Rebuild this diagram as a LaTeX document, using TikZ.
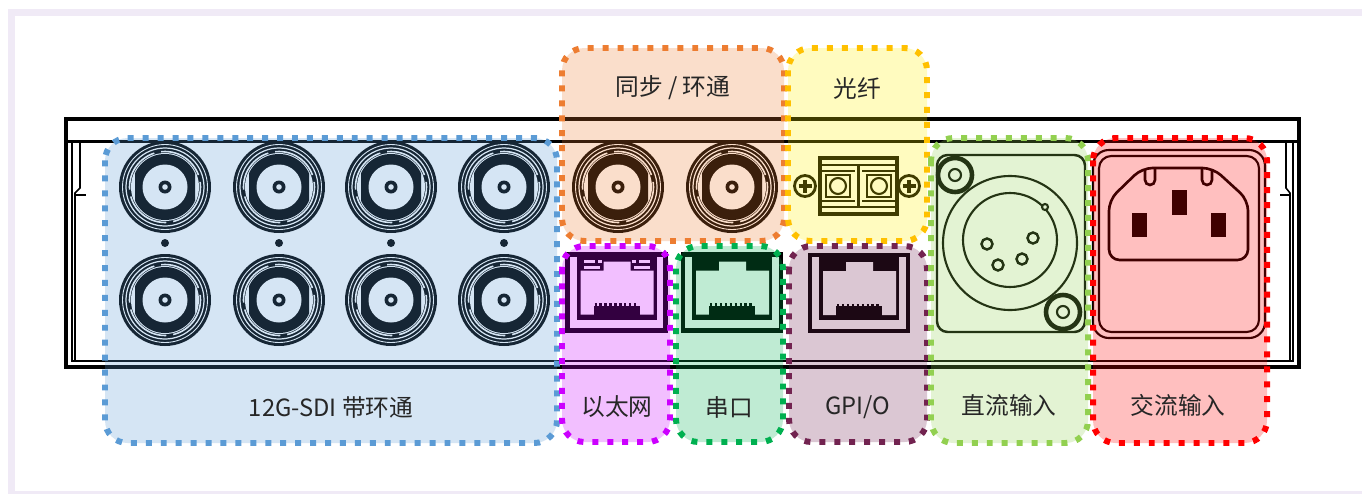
\documentclass[tikz,border=0pt]{standalone}
\usepackage{fontspec}
\setmainfont{Noto Sans CJK SC}
\usepackage{xcolor}
\usepackage{tikz}
\usetikzlibrary{positioning}

\definecolor{framelav}{HTML}{F0EAF6}
\definecolor{sdiblue}{HTML}{5B9BD5}
\definecolor{syncorange}{HTML}{ED7D31}
\definecolor{fibergold}{HTML}{FFC000}
\definecolor{ethpurple}{HTML}{CC00FF}
\definecolor{serialgreen}{HTML}{00B050}
\definecolor{gpioplum}{HTML}{722350}
\definecolor{dcgreen}{HTML}{92D050}
\definecolor{acred}{HTML}{FF0000}

\begin{document}
\begin{tikzpicture}[x=0.02cm,y=-0.02cm,
  zone/.style={draw=#1,fill=#1,fill opacity=0.25,line width=3.4pt,
    dash pattern=on 3.4pt off 5.1pt,rounded corners=0.45cm},
  tag/.style={font=\fontsize{13.5}{16}\selectfont,text=black!85},
  ink line/.style={draw=black,line width=1.2pt},
  pics/bnc/.style={code={
    \fill[black] (0,0) circle (46);
    \draw[white,line width=0.5pt] (0,0) circle (42.5);
    \draw[white,line width=0.7pt] (0,0) circle (39);
    \draw[white,line width=0.9pt,dash pattern=on 27pt off 4pt] (0,0) circle (35.5);
    \fill[white] (0,0) circle (34);
    \begin{scope}
      \clip (-30,-40) rectangle (30,40);
      \fill[black] (0,0) circle (33);
    \end{scope}
    \fill[white] (0,0) circle (22.5);
    \fill[black] (0,0) circle (6.5);
    \fill[white] (0,0) circle (2.8);
  }},
  pics/rjport/.style={code={
    \draw[black,line width=2.8pt] (-49,-38) rectangle (49,38);
    \fill[black] (-40,-36) rectangle (40,27);
    \fill[white] (-36,-22) -- (-13,-22) -- (-13,-31) -- (14,-31) -- (14,-22)
      -- (37,-22) -- (37,22) -- (-36,22) -- cycle;
    \fill[black] (-23,13) rectangle (23,23);
    \draw[black,line width=1.2pt,dash pattern=on 1.4pt off 1.4pt] (-22,12) -- (22,12);
  }}]

\useasboundingbox (0,0) rectangle (1362,494);

% frame
\fill[framelav] (8,9) rectangle (1362,494);
\fill[white] (15,16) rectangle (1362,491);

% chassis
\draw[black,line width=1.9pt] (66,119) rectangle (1299,367);
\draw[black,line width=1.5pt] (68,141.5) -- (1297,141.5);
\draw[ink line,line width=0.9pt] (72,141) -- (72,361) -- (1293,361) -- (1293,141);
\draw[ink line,line width=0.9pt] (80,141) -- (80,188) -- (75,193) -- (75,361);
\draw[ink line,line width=0.9pt] (1286,141) -- (1286,188) -- (1290,193) -- (1290,361);
\draw[black,line width=1.4pt] (74,195) -- (86,195);
\draw[black,line width=1.4pt] (1291,195) -- (1280,195);

% sdi
\foreach \cx in {165,279,391,504} {
  \pic at (\cx,187) {bnc};
  \pic at (\cx,300) {bnc};
  \fill[black] (\cx,243) circle (4);
}

% sync
\pic at (618,187) {bnc};
\pic at (732,187) {bnc};

% fiber
\draw[black,line width=2.3pt] (820,158) rectangle (897,214);
\draw[ink line] (822,165) -- (895,165) (822,207) -- (895,207) (858.5,165) -- (858.5,207);
\foreach \cx in {838,879} {
  \draw[black,line width=1.6pt] (\cx-17,171) -- (\cx+17,171) (\cx-17,201) -- (\cx+17,201);
  \draw[ink line] (\cx-12,175) rectangle (\cx+12,197);
  \draw[ink line] (\cx,186) circle (8);
}
\foreach \cx in {805,909} {
  \draw[black,line width=1.6pt,fill=white] (\cx,186) circle (10.5);
  \draw[black,line width=2.6pt] (\cx-6.5,186) -- (\cx+6.5,186) (\cx,179.5) -- (\cx,192.5);
}

% ports
\pic at (616.5,292.5) {rjport};
\pic at (732,292.5) {rjport};
\pic at (859,293) {rjport};
\foreach \dx in {-1,1} {
  \fill[white] (616.5+\dx*33,260) rectangle (616.5+\dx*22,263);
  \fill[white] (616.5+\dx*19,260) rectangle (616.5+\dx*15,263);
  \fill[white] (616.5+\dx*33,266) rectangle (616.5+\dx*17,269);
}

% dc in
\draw[ink line,line width=1.4pt,rounded corners=6pt] (937,155) rectangle (1085,332);
\draw[ink line] (1010,243) circle (67);
\draw[ink line] (1010,240) circle (47);
\draw[ink line,fill=white] (1045,207) circle (3);
\foreach \px/\py in {987/244,1033/238,998/265,1022/259}
  \draw[ink line,line width=1.4pt] (\px,\py) circle (5.5);
\foreach \sx/\sy in {955/175,1063/312} {
  \draw[black,line width=2.6pt,fill=white] (\sx,\sy) circle (17);
  \draw[ink line] (\sx,\sy) circle (6);
}

% ac in
\draw[ink line,rounded corners=9pt] (1093,150) rectangle (1265,338);
\draw[ink line,rounded corners=7pt] (1099,156) rectangle (1259,332);
\draw[ink line,line width=1.5pt,rounded corners=6pt] (1142,168) -- (1213,168) -- (1248,200)
  -- (1248,260) -- (1109,260) -- (1109,200) -- cycle;
\draw[ink line,line width=1.5pt] (1145,169) -- (1145,180) arc (180:0:5) -- (1155,169);
\draw[ink line,line width=1.5pt] (1202,169) -- (1202,180) arc (180:0:5) -- (1212,169);
\fill[black] (1172,190) rectangle (1187,215);
\fill[black] (1132,213) rectangle (1147,237);
\fill[black] (1211,213) rectangle (1226,237);

% zones
\draw[zone=sdiblue] (105,138) rectangle (557,443);
\draw[zone=syncorange] (562,48) rectangle (784,241);
\draw[zone=fibergold,fill=yellow] (788,48) rectangle (927,241);
\draw[zone=ethpurple] (562,246) rectangle (670,442);
\draw[zone=serialgreen] (676,246) rectangle (783,442);
\draw[zone=gpioplum] (789,246) rectangle (927,442);
\draw[zone=dcgreen] (931,138) rectangle (1088,443);
\draw[zone=acred] (1093,138) rectangle (1267,443);

% labels
\node[tag] (lbsdi) at (331,408) {12G-SDI 带环通};
\node[tag] (lbsync) at (673,88) {同步 / 环通};
\node[tag] (lbfiber) at (857,88) {光纤};
\node[tag] (lbeth) at (617,407) {以太网};
\node[tag] (lbserial) at (729,407) {串口};
\node[tag] (lbgpio) at (858,407) {GPI/O};
\node[tag] (lbdc) at (1009,405) {直流输入};
\node[tag] (lbac) at (1178,405) {交流输入};
\end{tikzpicture}
\end{document}
